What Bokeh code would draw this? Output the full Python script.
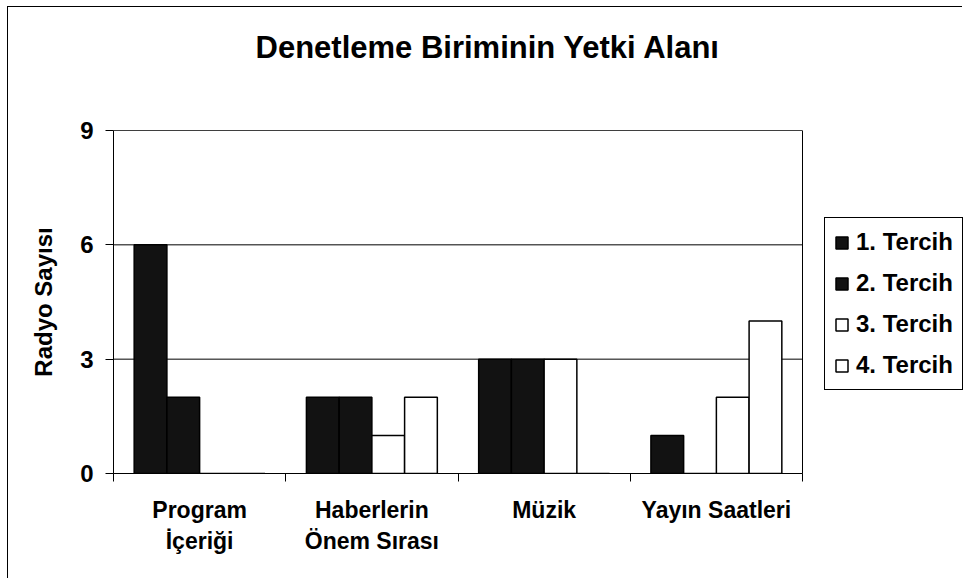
from bokeh.plotting import figure
from bokeh.models import Range1d, FixedTicker, Legend, LegendItem, Title, BoxAnnotation
from bokeh.embed import file_html
from bokeh.resources import INLINE

# ---- data ----
categories = ["Program\nİçeriği", "Haberlerin\nÖnem Sırası", "Müzik", "Yayın Saatleri"]
series_names = ["1. Tercih", "2. Tercih", "3. Tercih", "4. Tercih"]
tercih1 = [6, 2, 3, 1]
tercih2 = [2, 2, 3, 0]
tercih3 = [0, 1, 3, 2]
tercih4 = [0, 2, 0, 4]
y_ticks = [0, 3, 6, 9]
title_text = "Denetleme Biriminin Yetki Alanı"
y_label = "Radyo Sayısı"

series_values = [tercih1, tercih2, tercih3, tercih4]
fills = ["#121212", "#121212", "white", "white"]
offsets = [-0.285, -0.095, 0.095, 0.285]
bar_w = 0.19
FONT = "Liberation Sans"

n_cat = len(categories)
W, H = 955, 572
LEFT, TOP, BOTTOM = 105, 123, 106
plot_area_px = 689          # width of the boxed plot area
frame_px = W - LEFT         # frame reaches the right edge so the legend is not clipped
x_end = n_cat * frame_px / plot_area_px

p = figure(width=W, height=H, output_backend="svg", toolbar_location=None,
           title=None,
           x_range=Range1d(0, x_end), y_range=Range1d(0, y_ticks[-1]),
           min_border_left=LEFT, min_border_right=0, min_border_top=TOP,
           min_border_bottom=BOTTOM, background_fill_color="white",
           border_fill_color="white")

p.styles = {"margin-left": "7px", "margin-top": "6px",
            "border-left": "1px solid black", "border-top": "1px solid black",
            "border-right": "none", "border-bottom": "none",
            "outline": "none", "box-shadow": "none"}

# spacer between frame and title, then the title itself (outermost)
spacer = Title(text=" ", text_font_size="1px", standoff=60)
p.add_layout(spacer, "above")
title = Title(text=title_text, text_font=FONT, text_font_style="bold",
              text_font_size="31px", align="left", offset=142, standoff=6,
              text_color="black")
p.add_layout(title, "above")

p.outline_line_color = None

# horizontal gridlines limited to the plot area
p.segment(x0=[0] * len(y_ticks), x1=[n_cat] * len(y_ticks), y0=y_ticks, y1=y_ticks,
          line_color="black", line_width=1)

renderers = []
for vals, fc, off in zip(series_values, fills, offsets):
    xs = [i + 0.5 + off for i in range(n_cat)]
    r = p.vbar(x=xs, top=vals, bottom=0, width=bar_w, fill_color=fc,
               line_color="black", line_width=1.5)
    renderers.append(r)

# plot-area box
p.add_layout(BoxAnnotation(left=0, right=n_cat, bottom=0, top=y_ticks[-1],
                           fill_alpha=0, line_color="black", line_width=1,
                           line_alpha=1))

# y axis
p.yaxis.ticker = FixedTicker(ticks=y_ticks)
p.yaxis.minor_tick_line_color = None
p.yaxis.major_tick_out = 8
p.yaxis.major_tick_in = 0
p.yaxis.major_label_standoff = 12
p.yaxis.major_label_text_font = FONT
p.yaxis.major_label_text_font_style = "bold"
p.yaxis.major_label_text_font_size = "24px"
p.yaxis.major_label_text_color = "black"
p.yaxis.axis_line_color = "black"
p.yaxis.major_tick_line_color = "black"
p.yaxis.axis_label = y_label
p.yaxis.axis_label_text_font = FONT
p.yaxis.axis_label_text_font_style = "bold"
p.yaxis.axis_label_text_font_size = "24px"
p.yaxis.axis_label_text_color = "black"
p.yaxis.axis_label_standoff = 20

# x axis: labels at category centres, tick marks at boundaries
centres = [i + 0.5 for i in range(n_cat)]
bounds = list(range(n_cat + 1))
p.xaxis.ticker = FixedTicker(ticks=centres, minor_ticks=bounds)
p.xaxis.bounds = (0, n_cat)
p.xaxis.major_label_overrides = {c: lab for c, lab in zip(centres, categories)}
p.xaxis.major_tick_out = 0
p.xaxis.major_tick_in = 0
p.xaxis.minor_tick_out = 8
p.xaxis.minor_tick_in = 0
p.xaxis.minor_tick_line_color = "black"
p.xaxis.axis_line_color = "black"
p.xaxis.major_label_standoff = 15
p.xaxis.major_label_text_font = FONT
p.xaxis.major_label_text_font_style = "bold"
p.xaxis.major_label_text_font_size = "23px"
p.xaxis.major_label_text_color = "black"

p.xgrid.visible = False
p.ygrid.visible = False

legend = Legend(items=[LegendItem(label=n, renderers=[r]) for n, r in zip(series_names, renderers)],
                location=(plot_area_px + 22, 83))
legend.label_text_font = FONT
legend.label_text_font_style = "bold"
legend.label_text_font_size = "24px"
legend.label_text_color = "black"
legend.glyph_width = 15
legend.glyph_height = 15
legend.label_standoff = 7
legend.label_height = 30
legend.spacing = 11
legend.padding = 9
legend.margin = 0
legend.border_line_color = "black"
legend.border_line_width = 1
legend.border_line_alpha = 1
legend.background_fill_color = "white"
legend.background_fill_alpha = 1
p.add_layout(legend, "center")

open("out.html", "w").write(file_html(p, INLINE))
